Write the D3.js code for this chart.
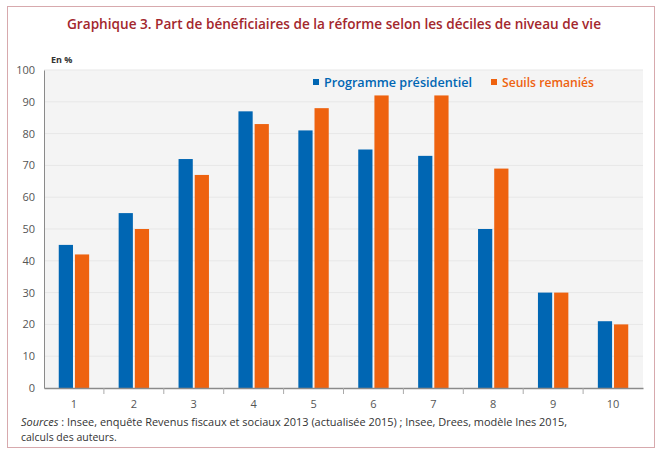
<!DOCTYPE html>
<html>
<head>
<meta charset="utf-8">
<script src="https://cdn.jsdelivr.net/npm/d3@7"></script>
<style>
  body { margin: 0; background: #fff; }
  svg text { font-family: "Open Sans", "Liberation Sans", sans-serif; }
</style>
</head>
<body>
<div id="chart"></div>
<script>
// data
const deciles = ["1", "2", "3", "4", "5", "6", "7", "8", "9", "10"];
const programme = [45, 55, 72, 87, 81, 75, 73, 50, 30, 21];
const seuils = [42, 50, 67, 83, 88, 92, 92, 69, 30, 20];
const yTicks = [0, 10, 20, 30, 40, 50, 60, 70, 80, 90, 100];
const seriesNames = ["Programme présidentiel", "Seuils remaniés"];

const colors = ["#0066b3", "#ee620f"];

const W = 661, H = 456;
const m = { left: 44, right: 18, top: 70, bottom: 68 };

let svg = d3.select("#chart")
  .append("svg")
  .attr("width", W)
  .attr("height", H);

// frame
svg.append("rect")
  .attr("x", 7.5).attr("y", 6.5)
  .attr("width", 647).attr("height", 441)
  .attr("fill", "none")
  .attr("stroke", "#d7a9ad")
  .attr("stroke-width", 1);

// title
svg.append("text")
  .attr("x", 334).attr("y", 29)
  .attr("text-anchor", "middle")
  .attr("fill", "#a3272d")
  .attr("font-size", 14.5)
  .attr("font-weight", 600)
  .attr("textLength", 534)
  .attr("lengthAdjust", "spacingAndGlyphs")
  .text("Graphique 3. Part de bénéficiaires de la réforme selon les déciles de niveau de vie");

let x = d3.scaleBand()
  .domain(deciles)
  .range([m.left, W - m.right]);

let y = d3.scaleLinear()
  .domain([0, 100])
  .range([H - m.bottom, m.top]);

// plot background
svg.append("rect")
  .attr("x", m.left).attr("y", m.top)
  .attr("width", x.range()[1] - m.left)
  .attr("height", y(0) - m.top)
  .attr("fill", "#f4f4f4");

// gridlines
svg.selectAll(".grid")
  .data(yTicks.slice(1))
  .enter()
  .append("line")
  .attr("x1", m.left).attr("x2", x.range()[1])
  .attr("y1", d => y(d)).attr("y2", d => y(d))
  .attr("stroke", "#e7e7e7");

// bars
let inner = d3.scaleBand()
  .domain([0, 1])
  .range([0, 30.4])
  .paddingInner(0.12);

let offset = (x.bandwidth() - 30.4) / 2;

[programme, seuils].forEach((vals, si) => {
  svg.selectAll(".bar" + si)
    .data(vals)
    .enter()
    .append("rect")
    .attr("x", (d, i) => x(deciles[i]) + offset + inner(si))
    .attr("y", d => y(d))
    .attr("width", inner.bandwidth())
    .attr("height", d => y(0) - y(d))
    .attr("fill", colors[si]);
});

// y axis
let yAxis = svg.append("g")
  .attr("transform", `translate(${m.left},0)`)
  .call(d3.axisLeft(y).tickValues(yTicks).tickSize(0).tickPadding(9));
yAxis.select(".domain").attr("stroke", "#8a8a8a");
yAxis.selectAll("text")
  .attr("font-size", 11)
  .attr("fill", "#555")
  .style("font-family", "Open Sans, sans-serif");

// x axis
let xAxis = svg.append("g")
  .attr("transform", `translate(0,${y(0)})`)
  .call(d3.axisBottom(x).tickSize(0).tickPadding(12));
xAxis.select(".domain").attr("stroke", "#8a8a8a").attr("stroke-width", 1.5);
xAxis.selectAll("text")
  .attr("font-size", 11)
  .attr("fill", "#555")
  .style("font-family", "Open Sans, sans-serif");

// separators between deciles
svg.selectAll(".sep")
  .data(deciles.slice(1))
  .enter()
  .append("line")
  .attr("x1", d => x(d)).attr("x2", d => x(d))
  .attr("y1", y(0)).attr("y2", y(0) + 6)
  .attr("stroke", "#aaa");

// unit
svg.append("text")
  .attr("x", 51).attr("y", 63)
  .attr("font-size", 9)
  .attr("font-weight", 700)
  .attr("fill", "#333")
  .text("En %");

// legend
const legendX = [313, 491];
const legendLen = [148, 92];
seriesNames.forEach((name, i) => {
  svg.append("rect")
    .attr("x", legendX[i]).attr("y", 79)
    .attr("width", 6).attr("height", 6)
    .attr("fill", colors[i]);
  svg.append("text")
    .attr("x", legendX[i] + 11).attr("y", 87)
    .attr("font-size", 13)
    .attr("font-weight", 600)
    .attr("fill", colors[i])
    .attr("textLength", legendLen[i])
    .attr("lengthAdjust", "spacingAndGlyphs")
    .text(name);
});

// sources
let src = svg.append("text")
  .attr("x", 21).attr("y", 426)
  .attr("font-size", 10.5)
  .attr("fill", "#333");
src.append("tspan").attr("font-style", "italic").text("Sources");
src.append("tspan").text(" : Insee, enquête Revenus fiscaux et sociaux 2013 (actualisée 2015) ; Insee, Drees, modèle Ines 2015,");
src.attr("textLength", 546).attr("lengthAdjust", "spacingAndGlyphs");

svg.append("text")
  .attr("x", 21).attr("y", 441)
  .attr("font-size", 10.5)
  .attr("fill", "#333")
  .text("calculs des auteurs.");
</script>
</body>
</html>
